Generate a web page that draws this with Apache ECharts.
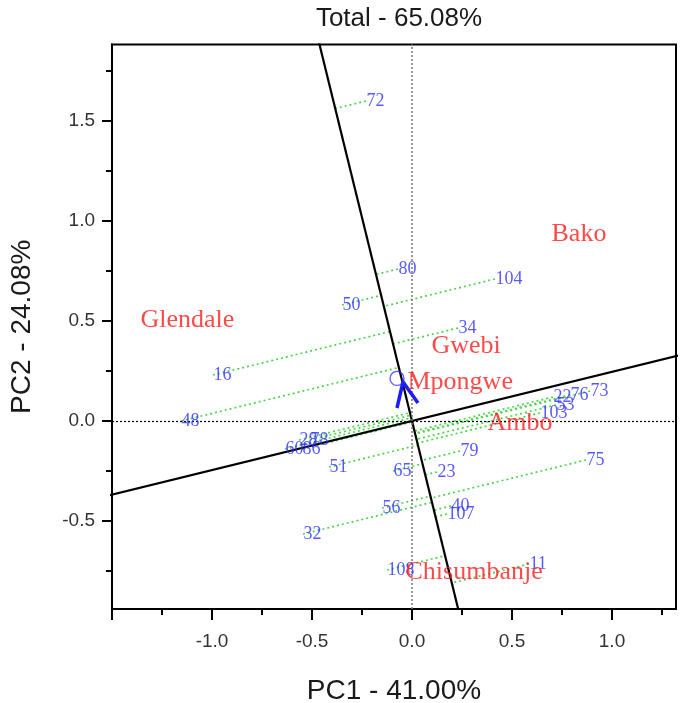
<!DOCTYPE html>
<html><head><meta charset="utf-8">
<script src="https://cdn.jsdelivr.net/npm/echarts@6/dist/echarts.min.js"></script>
<style>html,body{margin:0;padding:0;background:#fff}#c{width:685px;height:703px}</style>
</head><body><div id="c"></div>
<script>
const titleText = 'Total - 65.08%';
const xName = 'PC1 - 41.00%';
const yName = 'PC2 - 24.08%';
const xRange = [-1.5, 1.32];
const yRange = [-0.94, 1.8825];
const xMajorTicks = [-1.5, -1.0, -0.5, 0.0, 0.5, 1.0];
const xMajorLabels = [-1.0, -0.5, 0.0, 0.5, 1.0];
const xMinorTicks = [-1.25, -0.75, -0.25, 0.25, 0.75, 1.25];
const yMajorTicks = [-0.5, 0.0, 0.5, 1.0, 1.5];
const yMinorTicks = [-0.75, -0.25, 0.25, 0.75, 1.25, 1.75];

const genotypes = ['72','80','50','104','34','16','48','60','86','28','78','51','65','23','79','75','56','40','107','32','108','11','22','53','76','73','103'];
const genoX = [-0.23,-0.07,-0.35,0.415,0.23,-0.995,-1.155,-0.635,-0.55,-0.565,-0.51,-0.415,-0.095,0.125,0.24,0.87,-0.15,0.195,0.175,-0.545,-0.125,0.585,0.705,0.72,0.79,0.89,0.64];
const genoY = [1.60,0.76,0.58,0.71,0.465,0.23,0.0,-0.14,-0.14,-0.095,-0.095,-0.23,-0.25,-0.255,-0.15,-0.195,-0.435,-0.425,-0.465,-0.565,-0.745,-0.715,0.12,0.08,0.13,0.15,0.04];

const envNames = ['Bako','Glendale','Gwebi','Mpongwe','Ambo','Chisumbanje'];
const envX = [0.695,-1.36,0.095,-0.025,0.375,-0.035];
const envY = [0.935,0.505,0.375,0.195,-0.01,-0.755];

const aeaSlope = -4.07;            // average-environment axis through origin
const avgEnv = [-0.075, 0.213];    // average environment (circle)
const arrowHead = [[-0.075,0.065],[-0.045,0.195],[0.03,0.09]];

// geometry derived from data
const norm = Math.hypot(1, aeaSlope);
const ux = 1 / norm, uy = aeaSlope / norm;
const projLines = genotypes.map((g, i) => {
  const d = genoX[i] * ux + genoY[i] * uy;
  return { coords: [[genoX[i], genoY[i]], [d * ux, d * uy]] };
});
const aeaLine = [[2.3 / aeaSlope, 2.3], [-1.3 / aeaSlope, -1.3]];
const atcSlope = -1 / aeaSlope;
const atcLine = [[-1.8, -1.8 * atcSlope], [1.6, 1.6 * atcSlope]];

const sans = 'Liberation Sans';
const serif = 'Liberation Serif';

function axisCommon(range) {
  return { type: 'value', min: range[0], max: range[1], splitLine: { show: false } };
}

const chart = echarts.init(document.getElementById('c'), null, { renderer: 'canvas' });
chart.setOption({
  animation: false,
  backgroundColor: '#fff',
  title: {
    text: titleText, left: 394, top: 1, textAlign: 'center',
    textStyle: { fontFamily: sans, fontSize: 26, fontWeight: 'normal', color: '#1a1a1a' }
  },
  grid: { left: 112, top: 44.5, width: 564, height: 564.5, show: true, borderColor: '#000', borderWidth: 2,
    containLabel: false, outerBoundsMode: 'none' },
  xAxis: [
    Object.assign(axisCommon(xRange), {
      position: 'bottom',
      name: xName, nameLocation: 'middle', nameGap: 68,
      nameTextStyle: { fontFamily: sans, fontSize: 28, color: '#1a1a1a' },
      axisLine: { show: true, onZero: false, lineStyle: { color: '#000', width: 2 } },
      axisTick: { show: true, inside: false, length: 11, customValues: xMajorTicks, lineStyle: { color: '#000', width: 2 } },
      axisLabel: { show: true, customValues: xMajorLabels, margin: 23, fontFamily: sans, fontSize: 19, color: '#333',
        formatter: v => Number(v).toFixed(1) }
    }),
    Object.assign(axisCommon(xRange), {
      position: 'bottom',
      axisLine: { show: false, onZero: false },
      axisTick: { show: true, inside: false, length: 6, customValues: xMinorTicks, lineStyle: { color: '#000', width: 2 } },
      axisLabel: { show: false }
    })
  ],
  yAxis: [
    Object.assign(axisCommon(yRange), {
      position: 'left',
      name: yName, nameLocation: 'middle', nameGap: 76, nameRotate: 90,
      nameTextStyle: { fontFamily: sans, fontSize: 28, color: '#1a1a1a' },
      axisLine: { show: true, onZero: false, lineStyle: { color: '#000', width: 2 } },
      axisTick: { show: true, inside: false, length: 10, customValues: yMajorTicks, lineStyle: { color: '#000', width: 2 } },
      axisLabel: { show: true, customValues: yMajorTicks, margin: 17, fontFamily: sans, fontSize: 19, color: '#333',
        formatter: v => Number(v).toFixed(1) }
    }),
    Object.assign(axisCommon(yRange), {
      position: 'left',
      axisLine: { show: false, onZero: false },
      axisTick: { show: true, inside: false, length: 6, customValues: yMinorTicks, lineStyle: { color: '#000', width: 2 } },
      axisLabel: { show: false }
    })
  ],
  series: [
    {
      type: 'line', data: [], silent: true,
      markLine: {
        silent: true, symbol: 'none', label: { show: false },
        data: [
          { xAxis: 0, lineStyle: { color: '#777', type: [2, 2], width: 1.5 } },
          { yAxis: 0, lineStyle: { color: '#000', type: [2, 2], width: 1.2 } }
        ]
      }
    },
    {
      type: 'lines', coordinateSystem: 'cartesian2d', silent: true, z: 3,
      lineStyle: { color: '#4cd64c', width: 1.7, type: [2, 3], opacity: 1 },
      data: projLines
    },
    {
      type: 'line', data: aeaLine, symbol: 'none', clip: true, silent: true, z: 4,
      lineStyle: { color: '#000', width: 2.2 }
    },
    {
      type: 'line', data: atcLine, symbol: 'none', clip: true, silent: true, z: 4,
      lineStyle: { color: '#000', width: 2.2 }
    },
    {
      type: 'line', data: arrowHead, symbol: 'none', silent: true, z: 6,
      lineStyle: { color: '#1c1cff', width: 3.5, join: 'miter' }
    },
    {
      type: 'scatter', data: [avgEnv], symbol: 'circle', symbolSize: 14, silent: true, z: 6,
      itemStyle: { color: 'rgba(0,0,0,0)', borderColor: '#2a2aff', borderWidth: 1.3 }
    },
    {
      type: 'scatter', silent: true, z: 7, symbolSize: 1,
      itemStyle: { color: 'rgba(0,0,0,0)' },
      data: genotypes.map((g, i) => ({ name: g, value: [genoX[i], genoY[i]] })),
      label: { show: true, position: 'right', distance: 0, formatter: p => p.name,
        fontFamily: serif, fontSize: 18, color: '#3030ff' }
    },
    {
      type: 'scatter', silent: true, z: 8, symbolSize: 1,
      itemStyle: { color: 'rgba(0,0,0,0)' },
      data: envNames.map((g, i) => ({ name: g, value: [envX[i], envY[i]] })),
      label: { show: true, position: 'right', distance: 0, formatter: p => p.name,
        fontFamily: serif, fontSize: 26, color: '#ff1a1a' }
    }
  ]
});
</script>
</body></html>
